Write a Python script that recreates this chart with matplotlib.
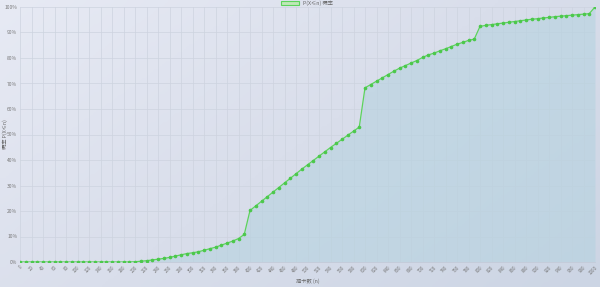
import numpy as np
import matplotlib
matplotlib.use("Agg")
import matplotlib.pyplot as plt
from matplotlib.colors import LinearSegmentedColormap
from matplotlib.patches import Rectangle

plt.rcParams['font.family'] = ['Noto Sans CJK SC', 'DejaVu Sans']

pulls = list(range(0, 1001, 10))
prob = [0.0] * 20 + [
    0.1, 0.3, 0.5, 0.8, 1.1, 1.4, 1.8, 2.3, 2.8, 3.3,
    3.6, 4.0, 4.6, 5.2, 5.8, 6.6, 7.4, 8.2, 9.2, 10.8,
    20.2, 22.0, 23.8, 25.6, 27.4, 29.2, 31.0, 32.8, 34.6, 36.4,
    38.1, 39.8, 41.5, 43.2, 44.9, 46.5, 48.1, 49.7, 51.3, 52.9,
    68.3, 69.6, 70.9, 72.2, 73.5, 74.8, 76.0, 77.0, 78.0, 79.0,
    80.2, 81.2, 81.9, 82.8, 83.6, 84.5, 85.4, 86.1, 86.9, 87.4,
    92.4, 92.8, 93.1, 93.4, 93.7, 94.0, 94.3, 94.6, 94.9, 95.2,
    95.4, 95.7, 95.9, 96.2, 96.4, 96.6, 96.8, 97.0, 97.2, 97.4,
    100.0,
]
x_ticks = list(range(0, 1001, 20))
y_ticks = list(range(0, 101, 10))
series_label = "P(X≤n) 概率"
x_title = "抽卡数 (n)"
y_title = "概率 P(X≤n)"

W, H = 600, 287
fig = plt.figure(figsize=(W / 100, H / 100), dpi=100)

# background gradient
bg = fig.add_axes([0, 0, 1, 1], zorder=-10)
cmap = LinearSegmentedColormap.from_list("bg", ["#e7eaf4", "#d9deeb", "#ccd5e4"])
gx, gy = np.meshgrid(np.linspace(0, 1, 200), np.linspace(0, 1, 100))
grad = (gx * 0.6 + gy * 0.4)
bg.imshow(grad, cmap=cmap, aspect='auto', extent=[0, 1, 0, 1], origin='upper')
bg.axis('off')

ax = fig.add_axes([20 / W, 1 - 262 / H, 575 / W, 255 / H])
ax.patch.set_alpha(0)

ax.fill_between(pulls, prob, 0, color="#b3d2df", alpha=0.55, lw=0, zorder=2)
ax.plot(pulls, prob, color="#5cd35c", lw=0.9, marker='o', ms=1.6,
        mfc="#4cc84c", mec="#4cc84c", zorder=3, label=series_label)

ax.set_xlim(0, 1000)
ax.set_ylim(0, 100)
ax.set_xticks(x_ticks)
ax.set_xticklabels([str(v) for v in x_ticks], rotation=45, fontsize=3.2,
                   color="#777777", ha='right', rotation_mode='anchor')
ax.set_yticks(y_ticks)
ax.set_yticklabels([f"{v}%" for v in y_ticks], fontsize=3.5, color="#777777")
ax.tick_params(length=0, pad=2)
ax.grid(True, color="#cdd3df", lw=0.5, zorder=0)
for s in ax.spines.values():
    s.set_visible(False)
ax.spines['bottom'].set_visible(True)
ax.spines['bottom'].set_color("#c4cbd9")
ax.spines['bottom'].set_linewidth(0.6)
ax.set_axisbelow(True)

ax.set_xlabel(x_title, fontsize=3.8, color="#666666", labelpad=2)
fig.text(5 / W, 1 - 134 / H, y_title, rotation=90, fontsize=3.8, color="#666666",
         ha='center', va='center')

leg = ax.legend(loc='lower center', bbox_to_anchor=(0.5, 0.995), frameon=False,
                fontsize=3.8, handlelength=3.0, handleheight=1.2, borderaxespad=0,
                labelcolor="#666666")
fig.canvas.draw()
h = leg.legend_handles[0]
h.set_visible(False)
bbox = h.get_window_extent()
fig.patches.append(Rectangle((bbox.x0 / W, (bbox.y0 - 1.5) / H), bbox.width / W, 4 / H,
                             transform=fig.transFigure, facecolor="#bfe8b8",
                             edgecolor="#5cd35c", lw=0.8, figure=fig))

fig.savefig("out.png", dpi=100)
